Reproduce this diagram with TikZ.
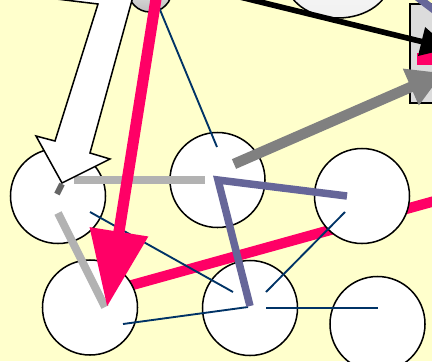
\documentclass[tikz,border=0pt]{standalone}
\usepackage{tikz}
\usetikzlibrary{arrows.meta,shapes.geometric}

\definecolor{paper}{HTML}{FFFFCC}
\definecolor{hotpink}{HTML}{FF0066}
\definecolor{navy}{HTML}{003366}
\definecolor{slate}{HTML}{666699}
\definecolor{lightgrey}{HTML}{B2B2B2}
\definecolor{midgrey}{HTML}{808080}
\definecolor{darkgrey}{HTML}{666666}
\definecolor{boxgrey}{HTML}{DCDCDC}

\begin{document}
\begin{tikzpicture}[x=0.03cm, y=-0.03cm,
    disc/.style={circle, draw, fill=white, line width=1.3pt, minimum size=2.85cm, inner sep=0pt},
    link/.style={navy, line width=1.6pt},
    greyband/.style={lightgrey, line width=6.2pt},
    slateband/.style={slate, line width=6.4pt, line join=miter}]

        \useasboundingbox[fill=paper] (0,0) rectangle (432,361);

        % end points
        \coordinate (p0) at (107,292);
        \coordinate (p1) at (460,194);
        \coordinate (a0) at (158,5);    \coordinate (a1) at (217,147);
        \coordinate (b0) at (90,212);   \coordinate (b1) at (233,292);
        \coordinate (d0) at (123,324);  \coordinate (d1) at (248,307);
        \coordinate (e0) at (266,292);  \coordinate (e1) at (345,212);
        \coordinate (f0) at (266,308);  \coordinate (f1) at (378,308);
        \coordinate (g0) at (74,180);   \coordinate (g1) at (205,180);
        \coordinate (h0) at (58,213);   \coordinate (h1) at (105,307);
        \coordinate (k0) at (57,194);   \coordinate (k1) at (62,184);
        \coordinate (s0) at (347,196);  \coordinate (s1) at (218,180);  \coordinate (s2) at (250,306);
        \coordinate (m0) at (234,164);  \coordinate (m1) at (443,73);
        \coordinate (r0) at (159,-20);  \coordinate (r1) at (107,307);
        \coordinate (q0) at (240,-3);   \coordinate (q1) at (450,48.5);
        \coordinate (u0) at (400,-16);  \coordinate (u1) at (450,22);

        \draw[hotpink, line width=8.8pt] (p0) -- (p1);

        \node[circle, draw, line width=1.3pt, minimum size=1.32cm, top color=white, bottom color=gray!50] (top1) at (150,-10) {};
        \node[ellipse, draw, line width=1.3pt, minimum width=3.12cm, minimum height=2.28cm, top color=white, bottom color=gray!12] (top2) at (338,-20) {};

        \node[disc] (c1) at (58,196) {};
        \node[disc] (c2) at (217.5,180) {};
        \node[disc] (c3) at (362,196) {};
        \node[disc] (c4) at (90,307.5) {};
        \node[disc] (c5) at (250,308) {};
        \node[disc] (c6) at (377.5,324) {};

        \draw[fill=boxgrey, line width=1.3pt] (410,4) rectangle (450,103);
        \fill[hotpink] (417,53) rectangle (440,65);

        \draw[link] (a0) -- (a1);
        \draw[link] (b0) -- (b1);
        \draw[link] (d0) -- (d1);
        \draw[link] (e0) -- (e1);
        \draw[link] (f0) -- (f1);

        \draw[greyband] (g0) -- (g1);
        \draw[greyband, line width=6.8pt] (h0) -- (h1);
        \draw[darkgrey, line width=5pt] (k0) -- (k1);

        \draw[slateband] (s0) -- (s1) -- (s2);

        \draw[-{Triangle[length=30pt, width=32pt]}, midgrey, line width=9pt] (m0) -- (m1);

        \draw[-{Triangle[length=65pt, width=48pt]}, hotpink, line width=9.5pt] (r0) -- (r1);

        \draw[-{Triangle[length=25pt, width=24pt]}, line width=4.8pt] (q0) -- (q1);

        \draw[slateband] (u0) -- (u1);

        \draw[fill=white, line width=1.3pt, line join=miter]
          (40,-3) -- (98,4) -- (55,141) -- (36,136) -- (62,183) -- (110,159) -- (90,153) -- (137,-18) -- (40,-18) -- cycle;

      \end{tikzpicture}
\end{document}
